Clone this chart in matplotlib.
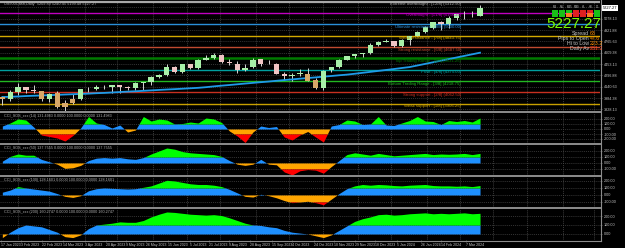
import numpy as np
import pandas as pd
import matplotlib
matplotlib.use("Agg")
import matplotlib.pyplot as plt
from matplotlib.transforms import blended_transform_factory as blend
from matplotlib.patches import Rectangle

plt.rcParams['font.family'] = ['DejaVu Sans']

# ---------------- data ----------------
first_day = "2023-01-17"
last_day = "2024-03-22"
week_ends = pd.date_range("2023-01-20", last_day, freq="W-FRI")

opens = [3999, 3975, 4070, 4137, 4090, 4077, 3967, 4055, 3858, 3918, 3975, 4108, 4110, 4132,
         4134, 4167, 4136, 4127, 4194, 4210, 4280, 4298, 4410, 4345, 4450, 4402, 4508, 4540,
         4581, 4482, 4460, 4372, 4410, 4520, 4454, 4450, 4318, 4285, 4310, 4322, 4229, 4119,
         4365, 4410, 4516, 4562, 4592, 4610, 4720, 4759, 4770, 4705, 4782, 4845, 4892, 4957,
         5028, 5004, 5093, 5131, 5120, 5116]
highs = [4015, 4095, 4195, 4141, 4163, 4087, 4049, 4079, 3964, 4039, 4110, 4133, 4163, 4169,
         4170, 4168, 4154, 4212, 4213, 4290, 4322, 4448, 4420, 4458, 4456, 4527, 4578, 4607,
         4595, 4528, 4490, 4458, 4541, 4514, 4512, 4466, 4338, 4324, 4385, 4393, 4256, 4366,
         4418, 4521, 4568, 4598, 4609, 4739, 4778, 4793, 4754, 4802, 4843, 4907, 4975, 5030,
         5048, 5111, 5140, 5190, 5179, 5265]
lows = [3885, 3950, 4031, 4060, 4048, 3943, 3925, 3846, 3808, 3899, 3958, 4069, 4095, 4114,
        4049, 4048, 4099, 4098, 4103, 4166, 4258, 4290, 4328, 4328, 4385, 4389, 4514, 4528,
        4474, 4443, 4335, 4356, 4406, 4430, 4449, 4317, 4238, 4216, 4283, 4223, 4104, 4103,
        4339, 4406, 4514, 4537, 4546, 4593, 4699, 4751, 4682, 4682, 4714, 4845, 4881, 4942,
        4920, 4946, 5056, 5076, 5104, 5114]
closes = [3973, 4071, 4136, 4090, 4079, 3970, 4046, 3862, 3917, 3971, 4109, 4105, 4138, 4133,
          4169, 4136, 4124, 4192, 4205, 4282, 4299, 4410, 4348, 4450, 4399, 4505, 4536, 4582,
          4478, 4464, 4370, 4406, 4516, 4457, 4450, 4320, 4288, 4309, 4327, 4224, 4117, 4358,
          4415, 4514, 4559, 4595, 4604, 4719, 4755, 4770, 4697, 4784, 4840, 4891, 4959, 5027,
          5006, 5089, 5137, 5124, 5117, 5227.27]
ma200 = [3999, 4003, 4007, 4013, 4017, 4021, 4025, 4029, 4034, 4038, 4042, 4046, 4052, 4056,
         4062, 4068, 4074, 4079, 4085, 4091, 4097, 4103, 4108, 4114, 4120, 4126, 4135, 4146,
         4156, 4165, 4175, 4185, 4194, 4204, 4213, 4223, 4233, 4242, 4252, 4261, 4270, 4280,
         4289, 4299, 4308, 4320, 4333, 4346, 4359, 4372, 4385, 4399, 4412, 4434, 4456, 4478,
         4500, 4522, 4544, 4566, 4588, 4610]

osc1 = [60, 120, 200, 180, 40, -120, -150, -180, -240, -130, 20, 250, 120, 90, 20, 80, -60,
        -20, 250, 160, 200, 180, 100, 110, 140, 120, 220, 200, 130, -40, -140, -270, -60, 60,
        30, 50, -160, -220, -120, -50, -160, -260, 60, 90, 180, 160, 90, 100, 250, 80, 70, 120,
        170, 250, 160, 150, 90, 170, 150, 170, 140, 220]
osc2 = [30, 110, 150, 130, 130, 60, 20, -20, -90, -80, -40, 40, 80, 90, 80, 90, 70, 60, 90,
        150, 200, 250, 230, 190, 170, 160, 150, 140, 110, 40, -20, -40, -20, 60, -20, -30, -150,
        -200, -130, -110, -120, -170, -60, 40, 140, 170, 150, 130, 160, 140, 120, 130, 140, 150,
        160, 140, 150, 145, 150, 160, 140, 160]
osc3 = [40, 70, 120, 100, 85, 70, 55, 20, -20, -35, -10, 60, 90, 100, 95, 90, 85, 90, 110,
        130, 170, 210, 200, 180, 160, 150, 150, 140, 120, 80, 30, -20, -30, 10, -10, -40, -80,
        -110, -100, -90, -110, -140, -60, 20, 90, 130, 150, 140, 150, 145, 135, 130, 140, 145,
        150, 135, 130, 130, 125, 130, 120, 135]
osc4 = [-40, 20, 70, 100, 90, 80, 50, 20, -30, -40, -10, 60, 100, 110, 120, 135, 130, 130,
        150, 190, 220, 245, 240, 230, 220, 215, 210, 215, 205, 180, 150, 120, 100, 95, 80, 70,
        40, 20, 10, 0, -20, -40, -10, 40, 90, 140, 170, 190, 215, 220, 210, 215, 225, 230, 235,
        225, 230, 225, 230, 235, 225, 230]
osc_titles = ["CCI_SOS_xxx (14) 131.4983 0.0000 100.0000 0.0000 131.4983",
              "CCI_SOS_xxx (50) 137.7555 0.0000 100.0000 0.0000 137.7555",
              "CCI_SOS_xxx (100) 128.1601 0.0000 100.0000 0.0000 128.1601",
              "CCI_SOS_xxx (200) 160.2747 0.0000 100.0000 0.0000 160.2747"]

level_names = ["Extreme overbought", "Overbought", "Ultimate resistance", "Weak resistance",
               "Strong resistance", "Top Trading Range", "Pivot", "Bottom Trading Range",
               "Strong support", "Weak support"]
level_tags = ["+2/8", "+1/8", "8/8", "7/8", "6/8", "5/8", "4/8", "3/8", "2/8", "1/8"]
level_values = [5312.50, 5156.25, 5000.00, 4843.75, 4687.50, 4531.25, 4375.00, 4218.75,
                4062.50, 3906.25]
level_colors = ["#a8a8a8", "#c000c0", "#2a8fd8", "#d4aa00", "#c04a30", "#007a00", "#00a0a0",
                "#22b822", "#c83020", "#c8a000"]
level_widths = [1.6, 1.0, 1.0, 1.0, 1.0, 1.8, 1.0, 1.0, 1.0, 1.0]

price_ticks = [5234.38, 5078.13, 4921.88, 4765.63, 4609.38, 4453.13, 4296.88, 4140.63,
               3984.38, 3828.13]
x_label_dates = ["2023-01-17", "2023-02-03", "2023-02-22", "2023-03-14", "2023-04-03",
                 "2023-04-20", "2023-05-09", "2023-05-26", "2023-06-15", "2023-07-05",
                 "2023-07-21", "2023-08-09", "2023-08-28", "2023-09-15", "2023-10-04",
                 "2023-10-24", "2023-11-10", "2023-11-29", "2023-12-18", "2024-01-05",
                 "2024-01-26", "2024-02-14", "2024-03-07"]
x_label_texts = ["17 Jan 2023", "3 Feb 2023", "22 Feb 2023", "14 Mar 2023", "3 Apr 2023",
                 "20 Apr 2023", "9 May 2023", "26 May 2023", "15 Jun 2023", "5 Jul 2023",
                 "21 Jul 2023", "9 Aug 2023", "28 Aug 2023", "15 Sep 2023", "4 Oct 2023",
                 "24 Oct 2023", "10 Nov 2023", "29 Nov 2023", "18 Dec 2023", "5 Jan 2024",
                 "26 Jan 2024", "14 Feb 2024", "7 Mar 2024"]
last_price = 5227.27
chart_title = "US500Cash,Daily  5209.80 5240.45 5199.48 5227.27"

tf_labels = ["M1", "M5", "M15", "M30", "H1", "H4", "D1"]
tf_row1 = ["g", "g", "g", "r", "r", "r", "g"]
tf_row2 = ["g", "g", "o", "r", "r", "o", "g"]
info_labels = ["Spread", "Pips to Open", "Hi to Low", "Daily Av"]
info_values = ["63", "47.6", "223.2", "231.2"]

# ---------------- layout helpers ----------------
W, H = 625, 248
PLOT_R = 600 / W
SMALL = 'Liberation Sans'
all_days = pd.bdate_range(first_day, periods=384)
pos = all_days.get_indexer(week_ends) - 2
pos = np.asarray(pos, dtype=float)
label_pos = all_days.get_indexer(pd.to_datetime(x_label_dates))
months = all_days.to_series().groupby(all_days.to_period('M')).first()
month_pos = [all_days.get_loc(d) for d in months.values[1:]]
XMAX = 382.6

fig = plt.figure(figsize=(6.25, 2.48), dpi=100)
fig.patch.set_facecolor('black')


def make_ax(top, bottom):
    ax = fig.add_axes([0, 1 - bottom / H, PLOT_R, (bottom - top) / H])
    ax.set_facecolor('black')
    for s in ax.spines.values():
        s.set_visible(False)
    ax.set_xlim(-0.5, XMAX)
    ax.yaxis.tick_right()
    ax.tick_params(axis='y', colors='#8a8a8a', labelcolor='#c8c8c8', labelsize=2.7,
                   length=1.5, width=0.4, pad=1)
    ax.tick_params(axis='x', bottom=False, labelbottom=False)
    for mp in month_pos:
        ax.axvline(mp, color='#505050', lw=0.5, ls=(0, (1.5, 1.5)), zorder=0)
    return ax


def style_ticklabels(ax):
    for lab in ax.get_yticklabels() + ax.get_xticklabels():
        lab.set_family(SMALL)


# ---------------- main price chart ----------------
ax = make_ax(0, 111.5)
ax.set_ylim(3800, 5336)
o = np.array(opens, float); c = np.array(closes, float)
hi = np.array(highs, float); lo = np.array(lows, float); ma = np.array(ma200, float)
for yv in price_ticks:
    ax.axhline(yv, color='#474747', lw=0.5, ls=(0, (1.5, 1.5)), zorder=0)
for val, colr, lw in zip(level_values, level_colors, level_widths):
    ax.axhline(val, color=colr, lw=lw, zorder=1)
tr = blend(ax.transAxes, ax.transData)
for name, tag, val, colr in zip(level_names, level_tags, level_values, level_colors):
    ax.text(461 / 600, val - 6, f"{name} - [{tag}] ({val:.2f})", transform=tr,
            ha='right', va='top', fontsize=3.1, color=colr, zorder=5, family=SMALL)

body_col = np.where(c < ma, '#d8a868', np.where(c >= o, '#a8f0a8', '#f0c4c4'))
ax.vlines(pos, lo, hi, color='#d4d4d4', lw=0.7, zorder=3)
ax.bar(pos, np.maximum(np.abs(c - o), 5), bottom=np.minimum(o, c), width=3.4,
       color=body_col, lw=0, zorder=4)
ax.plot(pos, ma, color='#1e9be8', lw=1.3, zorder=3)
label_ticks = [t for t in price_ticks if abs(t - last_price) > 60]
ax.set_yticks(label_ticks)
ax.set_yticklabels([f"{t:.2f}" for t in label_ticks])
style_ticklabels(ax)
ax.text(1.004, last_price, f"{last_price:.2f}", transform=tr, ha='left', va='center',
        fontsize=2.9, color='black', family=SMALL,
        bbox=dict(facecolor='white', edgecolor='none', pad=0.5))
ax.text(0.007, 0.985, chart_title, transform=ax.transAxes, ha='left', va='top',
        fontsize=2.8, color='#b0b0b0', family=SMALL)

# ---------------- oscillator panes ----------------
panes = [(113, 143.5, -290, 320), (145, 175.5, -209, 300),
         (177, 207.5, -179, 257), (209, 240, -67, 278)]
series = [osc1, osc2, osc3, osc4]
xs = np.linspace(pos[0], pos[-1], 1500)
axes = []
for (top, bot, ylo, yhi), vals, title in zip(panes, series, osc_titles):
    pa = make_ax(top, bot)
    pa.set_ylim(ylo, yhi)
    v = np.interp(xs, pos, np.asarray(vals, float))
    pa.fill_between(xs, 0, np.clip(v, 0, 100), color='#1e90ff', lw=0, zorder=2)
    pa.fill_between(xs, 100, np.maximum(v, 100), color='#00ff00', lw=0, zorder=2)
    pa.fill_between(xs, 0, np.clip(v, -100, 0), color='#ffa500', lw=0, zorder=2)
    pa.fill_between(xs, -100, np.minimum(v, -100), color='#ff0000', lw=0, zorder=2)
    ticks = [t for t in [200, 100, 0, -100, -200] if ylo + 25 < t < yhi - 25]
    for t in ticks:
        pa.axhline(t, color='#474747', lw=0.5, ls=(0, (1.5, 1.5)), zorder=1)
    pa.set_yticks(ticks)
    pa.set_yticklabels([f"{t:.2f}" for t in ticks])
    style_ticklabels(pa)
    pa.text(0.007, 0.97, title, transform=pa.transAxes, ha='left', va='top',
            fontsize=2.7, color='#b0b0b0', zorder=5, family=SMALL)
    axes.append(pa)

bottom_ax = axes[-1]
bottom_ax.tick_params(axis='x', bottom=True, labelbottom=True, colors='#8a8a8a',
                      labelcolor='#c8c8c8', labelsize=2.5, length=1.5, width=0.4, pad=0.8)
bottom_ax.set_xticks(label_pos)
bottom_ax.set_xticklabels(x_label_texts, ha='left')
style_ticklabels(bottom_ax)

# ---------------- overlay: separators and info panel ----------------
ov = fig.add_axes([0, 0, 1, 1])
ov.set_xlim(0, W); ov.set_ylim(H, 0); ov.axis('off'); ov.patch.set_alpha(0)
for ysep in [112.3, 144.3, 176.3, 208.3]:
    ov.plot([0, 600], [ysep, ysep], color='#8c8c8c', lw=1.4)
ov.plot([0, 600.5], [240.5, 240.5], color='#8c8c8c', lw=0.8)
ov.plot([600.5, 600.5], [0, 240.5], color='#8c8c8c', lw=0.8)

cmap = {'g': '#18c018', 'r': '#e02020', 'o': '#ff7a20'}
bx0, bw = 552, 7.0
for i, (lab, r1, r2) in enumerate(zip(tf_labels, tf_row1, tf_row2)):
    x0 = bx0 + i * bw
    ov.add_patch(Rectangle((x0, 10), bw - 0.6, 2.6, color=cmap[r1], lw=0))
    ov.add_patch(Rectangle((x0, 12.9), bw - 0.6, 4.2, color=cmap[r2], lw=0))
    ov.text(x0 + bw / 2 - 0.3, 8.5, lab, ha='center', va='bottom', fontsize=2.0,
            color='#c0c0c0', family=SMALL)
ov.text(601, 24.5, f"{last_price:.2f}", ha='right', va='center', fontsize=11,
        color='#7cfc00', family='Liberation Sans')
for j, (lab, val) in enumerate(zip(info_labels, info_values)):
    yy = 33.5 + j * 5
    ov.text(589, yy, lab, ha='right', va='center', fontsize=3.8, color='#c8c8c8',
            family=SMALL)
    ov.text(590, yy, val, ha='left', va='center', fontsize=3.8, family=SMALL,
            color='#ff8c00' if j < 3 else '#ff4a20')

fig.savefig("out.png", dpi=100, facecolor='black')
